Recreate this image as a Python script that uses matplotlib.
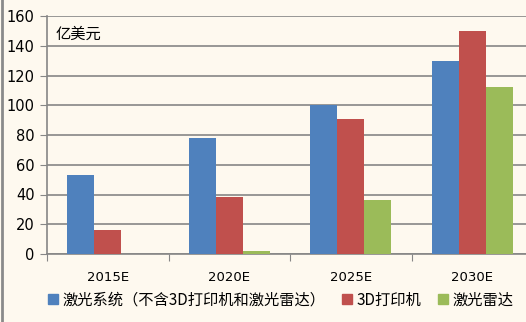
import numpy as np
import matplotlib
matplotlib.use("Agg")
import matplotlib.pyplot as plt
from matplotlib.patches import Rectangle
from matplotlib.lines import Line2D

plt.rcParams['font.family'] = ['Noto Sans CJK SC', 'DejaVu Sans']

categories = ['2015E', '2020E', '2025E', '2030E']
series_names = ['激光系统（不含3D打印机和激光雷达）', '3D打印机', '激光雷达']
laser_sys = [53, 78, 100, 130]
printer_3d = [16, 38, 91, 150]
lidar = [0, 2, 36, 112]
y_ticks = [0, 20, 40, 60, 80, 100, 120, 140, 160]
colors = ['#4F81BD', '#C0504D', '#9BBB59']

bg = '#FEF9EF'
grid_c = '#868686'

fig = plt.figure(figsize=(5.26, 3.22), dpi=100, facecolor=bg)
ax = fig.add_axes([47 / 526, 68 / 322, 486 / 526, 238 / 322])
ax.set_facecolor(bg)

x = np.arange(len(categories))
w = 0.222
for i, vals in enumerate([laser_sys, printer_3d, lidar]):
    ax.bar(x + (i - 1) * w, vals, width=w, color=colors[i], zorder=3)

ax.set_xlim(-0.5, len(categories) - 0.5)
ax.set_ylim(0, 160)
ax.set_yticks(y_ticks)
ax.set_yticklabels([str(v) for v in y_ticks], fontsize=10.5, family='DejaVu Sans')
ax.yaxis.grid(True, color=grid_c, linewidth=1.2, zorder=0)
ax.set_xticks(np.arange(len(categories) + 1) - 0.5)
ax.set_xticklabels([])
ax.set_xticks(x, minor=True)
ax.set_xticklabels(categories, minor=True, fontsize=9.5, family='DejaVu Sans')
ax.tick_params(axis='x', which='minor', length=0, pad=12)
ax.tick_params(axis='x', which='major', length=5, color=grid_c, direction='out')
ax.tick_params(axis='y', length=5, color=grid_c, pad=4)
for s in ['top', 'right']:
    ax.spines[s].set_visible(False)
ax.spines['left'].set_color(grid_c)
ax.spines['bottom'].set_color(grid_c)
ax.spines['left'].set_linewidth(1.2)
ax.spines['bottom'].set_linewidth(1.2)

ax.text(0.018, 0.96, '亿美元', transform=ax.transAxes, fontsize=11, va='top', ha='left')

handles = [Rectangle((0, 0), 1, 1, color=c) for c in colors]
fig.legend(handles, series_names, loc='center left', bbox_to_anchor=(34 / 526, 0.068), ncol=3,
           frameon=False, fontsize=11, handlelength=0.65, handleheight=0.65,
           handletextpad=0.3, columnspacing=1.1)

fig.add_artist(Line2D([1.5 / 526, 1.5 / 526], [0, 1], color='#8a8a8a', linewidth=2,
                      transform=fig.transFigure))

fig.savefig('out.png', dpi=100, facecolor=bg)
